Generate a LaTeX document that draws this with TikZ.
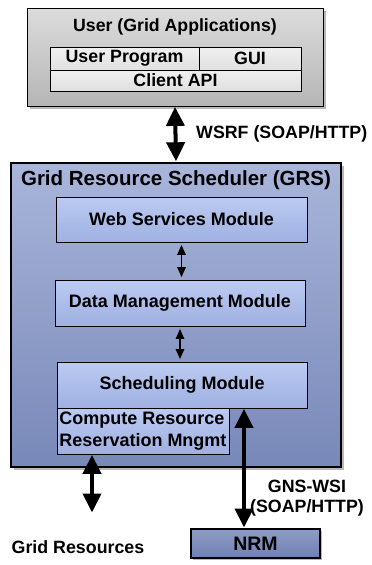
\documentclass[tikz,border=0pt]{standalone}
\usepackage{fontspec}
\setmainfont{Liberation Sans}
\usetikzlibrary{arrows.meta,shadows}

\definecolor{usertop}{HTML}{DCDCDC}
\definecolor{userbot}{HTML}{B6B6B6}
\definecolor{celltop}{HTML}{F0F0F0}
\definecolor{cellbot}{HTML}{E0E0E0}
\definecolor{grstop}{HTML}{A9B5DA}
\definecolor{grsbot}{HTML}{7888B8}
\definecolor{modtop}{HTML}{BCCBF2}
\definecolor{modbot}{HTML}{9FB0E2}
\definecolor{nrmtop}{HTML}{8E9CC8}
\definecolor{nrmbot}{HTML}{7080B0}

\tikzset{
  box/.style={draw=black, rectangle, inner sep=0pt, align=center},
  userbox/.style={box, line width=0.8pt, top color=usertop, bottom color=userbot,
    drop shadow={shadow xshift=2.5pt, shadow yshift=-2.5pt, fill=gray!70, opacity=0.8}},
  cell/.style={box, line width=0.6pt, top color=celltop, bottom color=cellbot, font=\bfseries\fontsize{17.8}{19}\selectfont},
  grsbox/.style={box, line width=2.4pt, top color=grstop, bottom color=grsbot,
    drop shadow={shadow xshift=2.5pt, shadow yshift=-2.5pt, fill=gray!70, opacity=0.8}},
  module/.style={box, line width=0.8pt, top color=modtop, bottom color=modbot, font=\bfseries\fontsize{18}{21.5}\selectfont},
  nrmbox/.style={box, line width=2pt, top color=nrmtop, bottom color=nrmbot, font=\bfseries\fontsize{19.5}{21}\selectfont,
    drop shadow={shadow xshift=2pt, shadow yshift=-2pt, fill=gray!70, opacity=0.8}},
  title/.style={font=\bfseries\fontsize{17.7}{20}\selectfont, inner sep=0pt},
  label/.style={font=\bfseries\fontsize{17.8}{20.5}\selectfont, inner sep=0pt, align=center},
  bigarrow/.style={line width=4pt, {Triangle[width=18pt,length=19pt]}-{Triangle[width=18pt,length=19pt]}, shorten <=0.5pt, shorten >=0.5pt},
  smallarrow/.style={line width=1.3pt, {Triangle[width=8.5pt,length=10pt]}-{Triangle[width=8.5pt,length=10pt]}, shorten <=2.5pt, shorten >=2.5pt}
}

\begin{document}
\begin{tikzpicture}[x=1pt,y=-1pt]
\useasboundingbox (0,0) rectangle (372,565);

% User side
\node[userbox, minimum width=296pt, minimum height=98pt] (user) at (175,57) {};
\node[title] (usertitle) at (175,27) {User (Grid Applications)};
\node[cell, minimum width=149pt, minimum height=23pt] (prog) at (124.5,58.5) {User Program};
\node[cell, minimum width=102pt, minimum height=23pt] (gui) at (250,58.5) {GUI};
\node[cell, minimum width=251pt, minimum height=21pt] (api) at (175.5,80.5) {Client API};

% Scheduler
\node[grsbox, minimum width=330pt, minimum height=304pt] (grs) at (176,315) {};
\node[title, font=\bfseries\fontsize{20.5}{23}\selectfont] (grstitle) at (176,180) {Grid Resource Scheduler (GRS)};
\node[module, minimum width=251pt, minimum height=45pt] (wsm) at (181.5,219.5) {Web Services Module};
\node[module, minimum width=250pt, minimum height=46pt] (dmm) at (180,303) {Data Management Module};
\node[module, minimum width=250pt, minimum height=46pt] (sm) at (182,385) {Scheduling Module};
\node[module, minimum width=172pt, minimum height=46pt, align=left] (crrm) at (143,431) {Compute Resource\\Reservation Mngmt};

% NRM
\node[nrmbox, minimum width=129pt, minimum height=29pt] (nrm) at (255.5,543.5) {NRM};

% Labels
\node[label, anchor=west] (wsrf) at (196,134) {WSRF (SOAP/HTTP)};
\node[label] (gns) at (307,498) {GNS-WSI\\(SOAP/HTTP)};
\node[label] (gridres) at (78,547) {Grid Resources};

% Connectors
\coordinate (gridend) at (92,513);
\coordinate (nrmx) at (244,0);
\draw[bigarrow] (user.south) -- (grs.north);
\draw[smallarrow] (wsm.south) -- (wsm.south |- dmm.north);
\draw[smallarrow] (dmm.south) -- (dmm.south |- sm.north);
\draw[bigarrow] (crrm.south -| gridend) -- (gridend);
\draw[bigarrow] (sm.south -| nrmx) -- (nrm.north -| nrmx);
\end{tikzpicture}
\end{document}
